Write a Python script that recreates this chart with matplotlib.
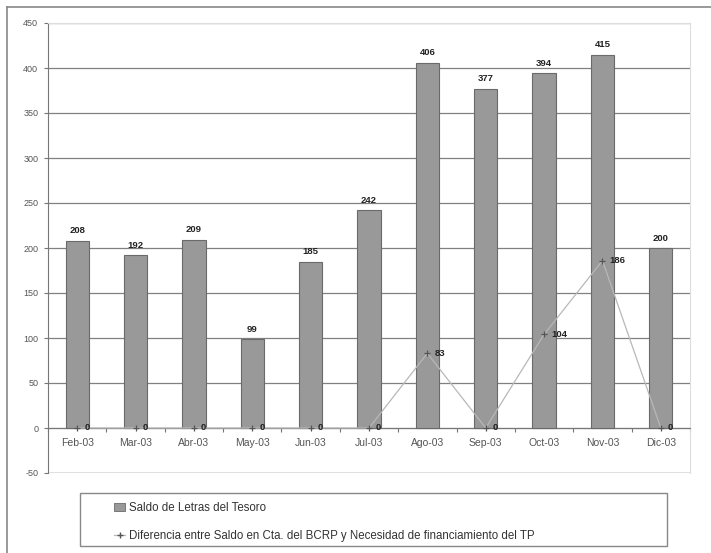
import matplotlib
matplotlib.use("Agg")
import matplotlib.pyplot as plt
from matplotlib.patches import Rectangle
from matplotlib.lines import Line2D
import numpy as np

plt.rcParams['font.family'] = ['Liberation Sans', 'DejaVu Sans']

categories = ["Feb-03", "Mar-03", "Abr-03", "May-03", "Jun-03", "Jul-03",
              "Ago-03", "Sep-03", "Oct-03", "Nov-03", "Dic-03"]
saldo_letras = [208, 192, 209, 99, 185, 242, 406, 377, 394, 415, 200]
diferencia = [0, 0, 0, 0, 0, 0, 83, 0, 104, 186, 0]
yticks = [-50, 0, 50, 100, 150, 200, 250, 300, 350, 400, 450]
label_bar = "Saldo de Letras del Tesoro"
label_line = "Diferencia entre Saldo en Cta. del BCRP y Necesidad de financiamiento del TP"

fig = plt.figure(figsize=(7.11, 5.53), dpi=100)
W, H = 711, 553
ax = fig.add_axes([48 / W, 1 - 473 / H, (690 - 48) / W, (473 - 23) / H])

x = np.arange(len(categories))
bar_color = "#999999"
ax.bar(x, saldo_letras, width=0.4, color=bar_color, edgecolor="#6a6a6a",
       linewidth=0.8, zorder=3)
ax.plot(x, diferencia, color="#b8b8b8", linewidth=0.9, marker="+",
        markersize=4, markeredgecolor="#555555", markeredgewidth=0.9, zorder=4)

for xi, v in zip(x, saldo_letras):
    ax.text(xi, v + 6, str(v), ha="center", va="bottom", fontsize=6.8,
            fontweight="bold", color="#222222", zorder=5)
for xi, v in zip(x, diferencia):
    ax.text(xi + 0.12, v, str(v), ha="left", va="center", fontsize=6.8,
            fontweight="bold", color="#222222", zorder=5)

ax.set_ylim(-50, 450)
ax.set_xlim(-0.5, len(categories) - 0.5)
ax.set_yticks(yticks)
ax.set_yticklabels([str(t) for t in yticks], fontsize=6.5, color="#555555")
ax.yaxis.grid(True, color="#808080", linewidth=0.9, zorder=0)
ax.set_axisbelow(True)

# x axis at zero
ax.spines['bottom'].set_position(('data', 0))
ax.spines['bottom'].set_color("#777777")
ax.spines['left'].set_color("#777777")
ax.spines['top'].set_color("#dddddd")
ax.spines['right'].set_color("#dddddd")
ax.set_xticks(np.arange(-0.5, len(categories), 1.0))
ax.set_xticklabels([])
ax.set_xticks(x, minor=True)
ax.set_xticklabels(categories, minor=True, fontsize=7.5, color="#555555")
ax.tick_params(axis='x', which='major', direction='out', length=3, color="#777777")
ax.tick_params(axis='x', which='minor', length=0, pad=7)
ax.tick_params(axis='y', direction='out', length=3, color="#777777", pad=4)
ax.axhline(-50, color="#dddddd", linewidth=1.2, zorder=1)

# figure border lines (top and left)
fig.add_artist(Line2D([7 / W, 1.0], [1 - 7 / H, 1 - 7 / H], color="#888888",
                      linewidth=1.2, transform=fig.transFigure))
fig.add_artist(Line2D([7 / W, 7 / W], [0, 1 - 7 / H], color="#888888",
                      linewidth=1.2, transform=fig.transFigure))

# legend box
fig.add_artist(Rectangle((80 / W, 1 - 546 / H), (667 - 80) / W, (546 - 493) / H,
                         transform=fig.transFigure, fill=False,
                         edgecolor="#888888", linewidth=1.0))
handles = [Rectangle((0, 0), 1, 1, facecolor=bar_color, edgecolor="#6a6a6a", linewidth=0.6),
           Line2D([], [], color="#b8b8b8", linewidth=0.9, marker="+", markersize=4,
                  markeredgecolor="#555555")]
fig.legend(handles, [label_bar, label_line], loc="upper left",
           bbox_to_anchor=(108 / W, 1 - 496 / H), frameon=False, fontsize=8.3,
           handlelength=1.0, handletextpad=0.3, labelspacing=1.45,
           borderpad=0, labelcolor="#333333")

fig.savefig("out.png", dpi=100)
